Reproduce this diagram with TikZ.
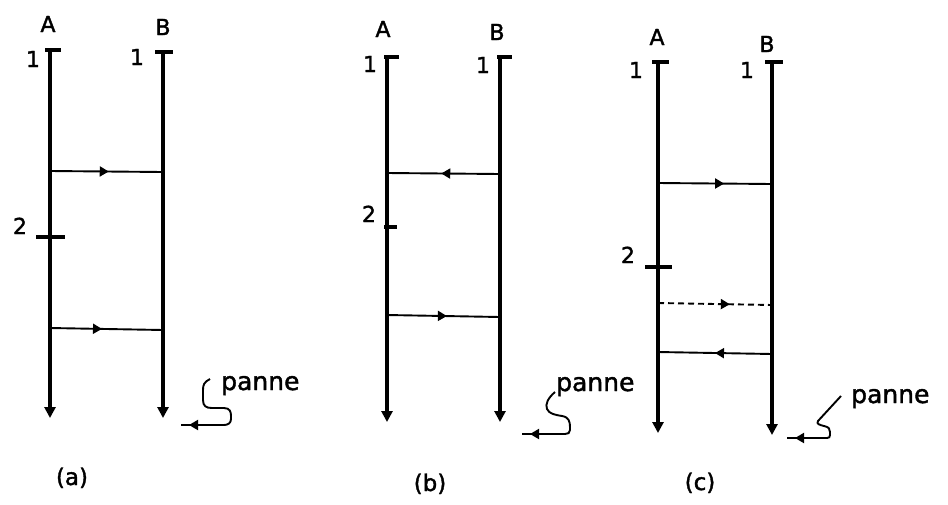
\documentclass[tikz,border=0pt]{standalone}
\usepackage{fontspec}
\setmainfont{DejaVu Sans}[FakeBold=1.6,AutoFakeBold=1.6]
\usetikzlibrary{arrows.meta,decorations.markings}
\begin{document}
\begin{tikzpicture}[x=1pt,y=-1pt,
  proc/.style={line width=4.8pt,-{Triangle[length=11pt,width=11pt]}},
  topbar/.style={line width=3.8pt},
  tickmark/.style={line width=3.2pt},
  msg/.style={line width=1.9pt},
  dmsg/.style={line width=1.9pt,dash pattern=on 6pt off 4pt},
  midarrow/.style={postaction={decorate},decoration={markings,mark=at position #1 with {\arrow{Triangle[length=9pt,width=10pt]}}}},
  pannepath/.style={line width=1.9pt,postaction={decorate},decoration={markings,mark=at position -8pt with {\arrow{Triangle[length=9pt,width=10pt]}}}},
  lbl/.style={font=\fontsize{22}{24}\selectfont\bfseries,inner sep=0pt,anchor=base},
  pannetxt/.style={font=\fontsize{25}{27}\selectfont\bfseries,inner sep=0pt,anchor=base west},
  caption/.style={font=\fontsize{23}{25}\selectfont\bfseries,inner sep=0pt,anchor=base}
]
\useasboundingbox (0,0) rectangle (948,504);

% ---------------- (a) ----------------
\coordinate (aAt) at (50,50);  \coordinate (aAb) at (50,418);
\coordinate (aBt) at (163,52); \coordinate (aBb) at (163,418);
\draw[proc] (aAt) -- (aAb);
\draw[proc] (aBt) -- (aBb);
\draw[topbar] (aAt) ++(-5,0) -- ++(16,0);
\draw[topbar] (aBt) ++(-8,0) -- ++(18,0);
\node[lbl] (aA) at (48,32) {A};
\node[lbl] (aB) at (163,35) {B};
\node[lbl] (aA1) at (33,67) {1};
\node[lbl] (aB1) at (137,65) {1};
\coordinate (aA2) at (50,237);
\draw[tickmark] (aA2) ++(-14,0) -- ++(29,0);
\node[lbl] (a2) at (20,234) {2};
\coordinate (am1s) at (50,171); \coordinate (am1e) at (163,172);
\coordinate (am2s) at (50,328); \coordinate (am2e) at (163,330);
\draw[msg,midarrow=0.52] (am1s) -- (am1e);
\draw[msg,midarrow=0.46] (am2s) -- (am2e);
\node[pannetxt] (apanne) at (221,390) {panne};
\coordinate (ap0) at (210,379); \coordinate (ap1) at (181,425);
\draw[pannepath] (ap0) .. controls (204,382) and (203,385) .. (203,390) -- (203,400)
  .. controls (203,406) and (206,408) .. (212,408) -- (224,408)
  .. controls (230,408) and (231,412) .. (231,416) -- (231,419)
  .. controls (231,423) and (228,425) .. (224,425) -- (ap1);
\node[caption] (acap) at (72,485) {(a)};

% ---------------- (b) ----------------
\coordinate (bAt) at (387,57);  \coordinate (bAb) at (387,422);
\coordinate (bBt) at (500,57);  \coordinate (bBb) at (500,422);
\draw[proc] (bAt) -- (bAb);
\draw[proc] (bBt) -- (bBb);
\draw[topbar] (bAt) ++(-3,0) -- ++(15,0);
\draw[topbar] (bBt) ++(-3,0) -- ++(15,0);
\node[lbl] (bA) at (383,37) {A};
\node[lbl] (bB) at (497,40) {B};
\node[lbl] (bA1) at (370,72) {1};
\node[lbl] (bB1) at (483,73) {1};
\coordinate (bA2) at (387,227);
\draw[tickmark] (bA2) ++(-3,0) -- ++(13,0);
\node[lbl] (b2) at (369,222) {2};
\coordinate (bm1s) at (500,174); \coordinate (bm1e) at (387,173);
\coordinate (bm2s) at (387,315); \coordinate (bm2e) at (500,317);
\draw[msg,midarrow=0.52] (bm1s) -- (bm1e);
\draw[msg,midarrow=0.53] (bm2s) -- (bm2e);
\node[pannetxt] (bpanne) at (556,391) {panne};
\coordinate (bp0) at (555,392); \coordinate (bp1) at (522,434);
\draw[pannepath] (bp0) .. controls (548,398) and (545,404) .. (547,409)
  .. controls (549,414) and (556,415) .. (562,416)
  .. controls (569,417) and (570,422) .. (570,427) -- (570,430)
  .. controls (570,433) and (568,434) .. (565,434) -- (bp1);
\node[caption] (bcap) at (430,491) {(b)};

% ---------------- (c) ----------------
\coordinate (cAt) at (658,62);  \coordinate (cAb) at (658,433);
\coordinate (cBt) at (772,62);  \coordinate (cBb) at (772,435);
\draw[proc] (cAt) -- (cAb);
\draw[proc] (cBt) -- (cBb);
\draw[topbar] (cAt) ++(-6,0) -- ++(17,0);
\draw[topbar] (cBt) ++(-7,0) -- ++(18,0);
\node[lbl] (cA) at (657,45) {A};
\node[lbl] (cB) at (767,52) {B};
\node[lbl] (cA1) at (636,78) {1};
\node[lbl] (cB1) at (747,78) {1};
\coordinate (cA2) at (658,267);
\draw[tickmark] (cA2) ++(-13,0) -- ++(27,0);
\node[lbl] (c2) at (628,263) {2};
\coordinate (cm1s) at (658,183); \coordinate (cm1e) at (772,184);
\coordinate (cm2s) at (658,303); \coordinate (cm2e) at (772,305);
\coordinate (cm3s) at (772,354); \coordinate (cm3e) at (658,352);
\draw[msg,midarrow=0.58] (cm1s) -- (cm1e);
\draw[dmsg,midarrow=0.63] (cm2s) -- (cm2e);
\draw[msg,midarrow=0.5] (cm3s) -- (cm3e);
\node[pannetxt] (cpanne) at (851,403) {panne};
\coordinate (cp0) at (841,396); \coordinate (cp1) at (787,438);
\draw[pannepath] (cp0) -- (818,421)
  .. controls (816,424) and (820,425) .. (824,426)
  .. controls (829,427) and (830,429) .. (830,432) -- (830,435)
  .. controls (830,437) and (829,438) .. (827,438) -- (cp1);
\node[caption] (ccap) at (700,490) {(c)};
\end{tikzpicture}
\end{document}
